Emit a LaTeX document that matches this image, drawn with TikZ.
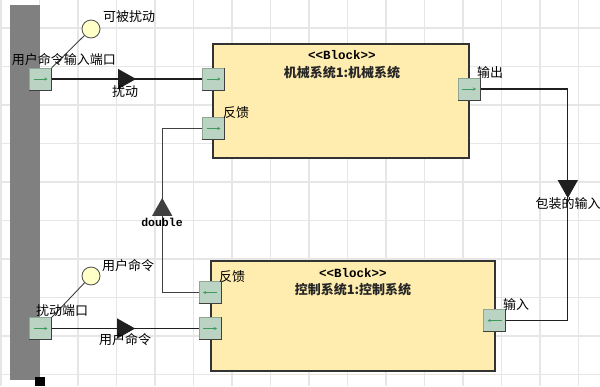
\documentclass[tikz,border=0pt]{standalone}
\usepackage{fontspec}
\newfontfamily\cjk{Noto Sans CJK SC}
\newfontfamily\monof{Liberation Mono}
\usetikzlibrary{arrows.meta,decorations.markings}
\definecolor{gridc}{HTML}{E6E6E6}
\definecolor{barc}{HTML}{808080}
\definecolor{blockfill}{HTML}{FFEDB0}
\definecolor{portfill}{HTML}{BAD3C2}
\definecolor{portline}{HTML}{8FA595}
\definecolor{portarr}{HTML}{3E9A5C}
\definecolor{circfill}{HTML}{FFFFC8}
\tikzset{
  block/.style={draw=black!80,line width=1.1pt,fill=blockfill,inner sep=0pt},
  port/.style={draw=portline,line width=0.6pt,fill=portfill,minimum width=22pt,minimum height=22pt,inner sep=0pt},
  portshadow/.style={draw=black!75,line width=1.1pt},
  portarrowstyle/.style={draw=portarr,line width=0.9pt,-{Stealth[length=3pt,width=3pt]}},
  conn/.style={draw=black!88,line width=1.2pt},
  lbl/.style={font=\cjk\fontsize{13}{14}\selectfont,inner sep=0pt,text=black},
  bname/.style={font=\cjk\bfseries\fontsize{13}{14}\selectfont,inner sep=0pt,text=black!85},
  mono/.style={font=\monof\bfseries\fontsize{12.5}{13}\selectfont,inner sep=0pt},
  circ/.style={circle,draw=black!70,line width=0.8pt,fill=circfill,minimum size=18pt,inner sep=0pt},
  midtri/.style={postaction={decorate,decoration={markings,mark=at position #1 with {\arrow{Triangle[length=18pt,width=20pt]}}}}}
}
\newcommand{\mkport}[2]{%
  \draw[portshadow] (#1.north east) -- (#1.south east) -- (#1.south west);
  \ifx r#2
    \draw[portarrowstyle] ([xshift=-7pt]#1.center) -- ([xshift=7pt]#1.center);
  \else
    \draw[portarrowstyle] ([xshift=7pt]#1.center) -- ([xshift=-7pt]#1.center);
  \fi}
\begin{document}
\begin{tikzpicture}[x=1pt,y=-1pt]
\useasboundingbox (0,0) rectangle (600,386);
\clip (0,0) rectangle (600,386);
\fill[white] (0,0) rectangle (600,386);
% grid
\foreach \k in {-2,...,13} {\draw[gridc,line width=1.3pt] ({78+38.5*\k},0) -- ({78+38.5*\k},386);}
\foreach \k in {-1,...,9} {\draw[gridc,line width=1.3pt] (0,{28+38.5*\k}) -- (600,{28+38.5*\k});}
% side bar
\fill[barc] (10,5) rectangle (40,380);
\fill[black] (35,377) rectangle (45,386);
% blocks
\node[block,minimum width=256pt,minimum height=114pt] (mech) at (341,101) {};
\node[block,minimum width=284pt,minimum height=110pt] (ctrl) at (353,316) {};
\node[mono] (mst) at (342,55) {<<Block>>};
\node[bname] (mname) at (342,73) {机械系统1:机械系统};
\node[mono] (cst) at (353,273) {<<Block>>};
\node[bname] (cname) at (353,290) {控制系统1:控制系统};
% ports
\node[port] (pA) at (40.5,79) {};
\node[port] (pB) at (40.5,328.5) {};
\node[port] (min) at (213.5,79) {};
\node[port] (mfb) at (213.5,128.5) {};
\node[port] (mout) at (469,89) {};
\node[port] (cfb) at (210,292.5) {};
\node[port] (cin) at (210,328.5) {};
\node[port] (cout) at (494.5,320.5) {};
% circles
\node[circ] (cA) at (91,29) {};
\node[circ] (cB) at (91,276) {};
\draw[black!75,line width=0.9pt] (cA) -- (pA.north east);
\draw[black!75,line width=0.9pt] (cB) -- (pB.north east);
% connectors
\draw[conn,midtri=0.56] (pA.east) -- (min.west);
\draw[conn,midtri=0.567] (pB.east) -- (cin.west);
\draw[conn,draw=black!75,midtri=0.545] (cfb.west) -- ++(-36.5,0) |- (mfb.west);
\draw[conn,midtri=0.516] (mout.east) -- ++(87.5,0) |- (cout.east);
% port decorations
\mkport{pA}{r}
\mkport{pB}{r}
\mkport{min}{r}
\mkport{mfb}{r}
\mkport{mout}{r}
\mkport{cfb}{l}
\mkport{cin}{r}
\mkport{cout}{l}
% labels
\node[lbl] (t1) at (129,17) {可被扰动};
\node[lbl] (t2) at (64,60) {用户命令输入端口};
\node[lbl] (t3) at (125,92) {扰动};
\node[lbl,anchor=west] (t4) at (223,113) {反馈};
\node[lbl,anchor=west] (t5) at (477,73) {输出};
\node[mono,font=\monof\bfseries\fontsize{11.5}{12}\selectfont] (t6) at (162,222) {double};
\node[lbl] (t7) at (568,204) {包装的输入};
\node[lbl,anchor=west] (t8) at (503,305) {输入};
\node[lbl,anchor=west] (t9) at (219,277) {反馈};
\node[lbl] (t10) at (128,266) {用户命令};
\node[lbl] (t11) at (62,311) {扰动端口};
\node[lbl] (t12) at (125,340) {用户命令};
\end{tikzpicture}
\end{document}
